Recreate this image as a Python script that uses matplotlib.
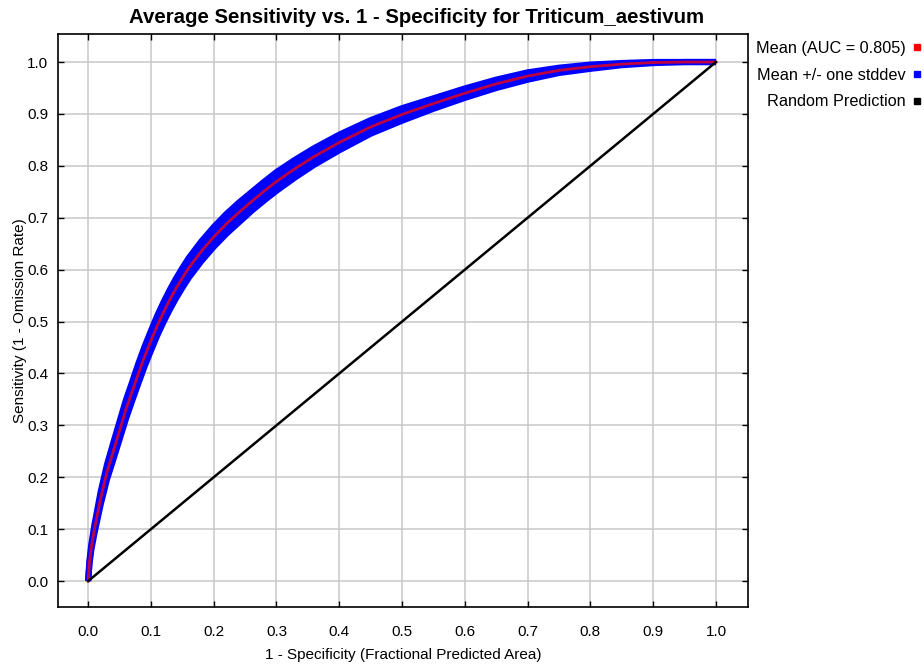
import matplotlib
matplotlib.use("Agg")
import matplotlib.pyplot as plt
from matplotlib.lines import Line2D
import numpy as np

plt.rcParams['font.family'] = ['Liberation Sans', 'DejaVu Sans']

# ---- data ----
fpa = [0.0, 0.002, 0.005, 0.01, 0.015, 0.02, 0.03, 0.04, 0.05, 0.06, 0.07, 0.08,
       0.09, 0.10, 0.11, 0.12, 0.13, 0.14, 0.15, 0.16, 0.18, 0.20, 0.22, 0.24,
       0.26, 0.28, 0.30, 0.33, 0.36, 0.40, 0.45, 0.50, 0.55, 0.60, 0.65, 0.70,
       0.75, 0.80, 0.85, 0.90, 0.95, 1.0]
sens_mean = [0.0, 0.035, 0.065, 0.10, 0.13, 0.16, 0.21, 0.25, 0.29, 0.33, 0.365, 0.40,
             0.433, 0.463, 0.492, 0.518, 0.542, 0.564, 0.584, 0.603, 0.635, 0.663, 0.688, 0.710,
             0.731, 0.751, 0.770, 0.795, 0.818, 0.845, 0.875, 0.899, 0.920, 0.940, 0.958, 0.973,
             0.984, 0.991, 0.996, 0.999, 1.0, 1.0]
sens_sd = [0.0, 0.003, 0.005, 0.008, 0.010, 0.012, 0.014, 0.016, 0.017, 0.018, 0.018, 0.019,
           0.019, 0.019, 0.019, 0.019, 0.019, 0.019, 0.019, 0.019, 0.019, 0.019, 0.019, 0.019,
           0.018, 0.018, 0.018, 0.017, 0.016, 0.015, 0.013, 0.012, 0.010, 0.009, 0.008, 0.007,
           0.005, 0.004, 0.002, 0.001, 0.0, 0.0]
auc = 0.805
random_x = [0.0, 1.0]
random_y = [0.0, 1.0]
xticks = [0.0, 0.1, 0.2, 0.3, 0.4, 0.5, 0.6, 0.7, 0.8, 0.9, 1.0]
yticks = [0.0, 0.1, 0.2, 0.3, 0.4, 0.5, 0.6, 0.7, 0.8, 0.9, 1.0]

x = np.array(fpa)
m = np.array(sens_mean)
sd = np.array(sens_sd)
upper = m + sd
lower = m - sd

W, H = 924, 667
fig = plt.figure(figsize=(W / 100, H / 100), dpi=100)
ax = fig.add_axes([58 / W, 1 - 606.5 / H, (748 - 58) / W, (606.5 - 34) / H])

ax.set_xlim(-0.048, 1.051)
ax.set_ylim(-0.049, 1.054)
ax.set_xticks(xticks)
ax.set_yticks(yticks)
ax.set_xticklabels([f"{t:.1f}" for t in xticks])
ax.set_yticklabels([f"{t:.1f}" for t in yticks])
ax.grid(True, color='#c8c8c8', linewidth=1.1)
ax.set_axisbelow(True)
ax.tick_params(direction='in', length=4, width=1, top=True, right=True,
               labelsize=11, colors='black')
ax.tick_params(axis='x', pad=13)
ax.tick_params(axis='y', pad=7)
for s in ax.spines.values():
    s.set_linewidth(1.2)
    s.set_color('black')

blue = '#0000ff'
ax.fill_between(x, lower, upper, color=blue, linewidth=0, zorder=2)
ax.plot(x, upper, color=blue, linewidth=4.5, solid_capstyle='butt', zorder=2)
ax.plot(x, lower, color=blue, linewidth=4.5, solid_capstyle='butt', zorder=2)
ax.plot(x, m, color='#ff0000', linewidth=2.0, alpha=0.75, zorder=3)
ax.plot(random_x, random_y, color='black', linewidth=1.8, zorder=3)

ax.set_title("Average Sensitivity vs. 1 - Specificity for Triticum_aestivum",
             fontsize=14.7, fontweight='bold', pad=8, x=0.52)
ax.set_xlabel("1 - Specificity (Fractional Predicted Area)", fontsize=11, labelpad=7)
ax.set_ylabel("Sensitivity (1 - Omission Rate)", fontsize=11, labelpad=0)

handles = [Line2D([], [], linestyle='none', marker='s', markersize=5, color='#ff0000'),
           Line2D([], [], linestyle='none', marker='s', markersize=5, color='#0000ff'),
           Line2D([], [], linestyle='none', marker='s', markersize=5, color='#000000')]
labels = [f"Mean (AUC = {auc:.3f})", "Mean +/- one stddev", "Random Prediction"]
fig.legend(handles, labels, loc='upper right', bbox_to_anchor=(922 / W, 1 - 41 / H),
           frameon=False, markerfirst=False, fontsize=11.7, handlelength=0.6,
           handletextpad=0.4, labelspacing=0.72, borderaxespad=0, borderpad=0)

fig.savefig("out.png", dpi=100)
